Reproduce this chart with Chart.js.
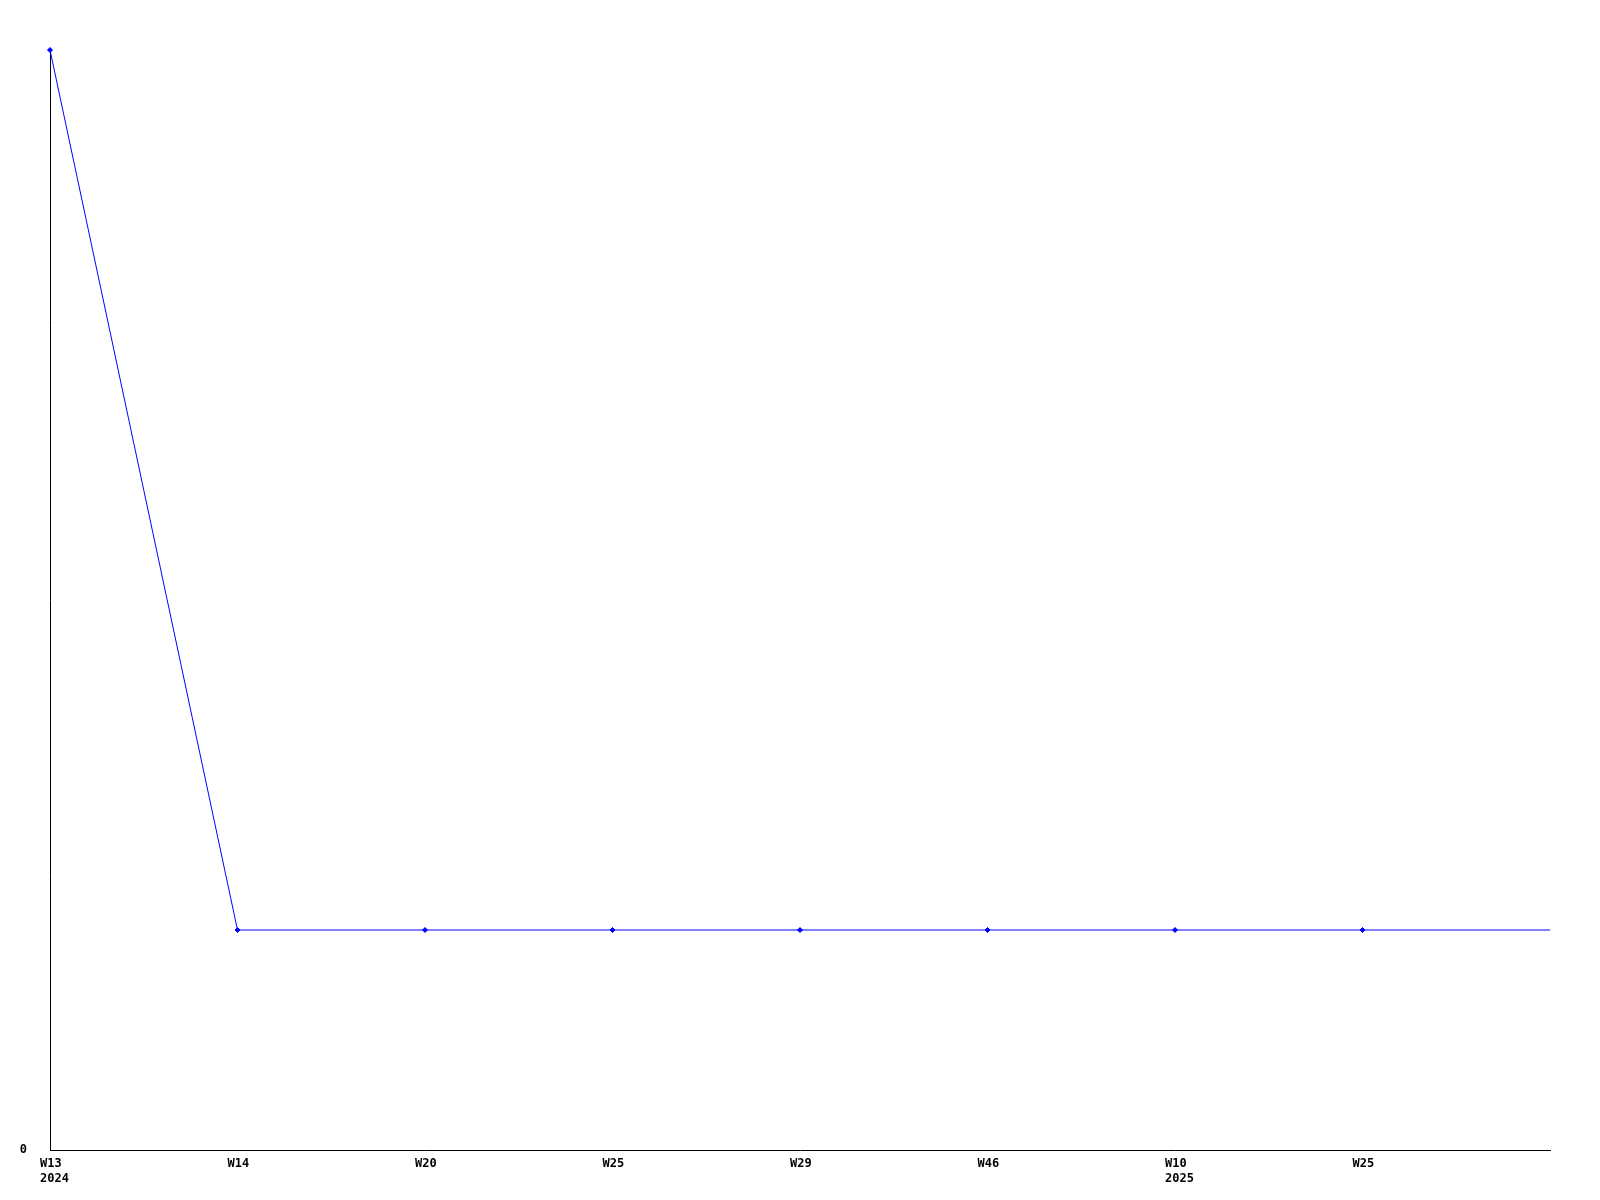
<!DOCTYPE html>
<html>
<head>
<meta charset="utf-8">
<script src="https://cdn.jsdelivr.net/npm/chart.js@4"></script>
<style>
  body{margin:0;background:#fff;}
  #wrap{width:1600px;height:1200px;}
</style>
</head>
<body>
<div id="wrap"><canvas id="weekChart" width="1600" height="1200"></canvas></div>
<script>
//Data
const weekLabels = ['W13','W14','W20','W25','W29','W46','W10','W25',''];
const yearLabels = ['2024','','','','','','2025','',''];
const counts = [5,1,1,1,1,1,1,1,1];
const yMin = 0;
const yMax = 5;

const labelFont = 'bold 12px "DejaVu Sans Mono", "Liberation Mono", monospace';

// x labels are drawn left aligned, a bit before each tick
const xLabels = {
    id:'xLabels',
    afterDraw(chart){
        const ctx = chart.ctx;
        const x = chart.scales.x;
        const bottom = chart.chartArea.bottom;
        ctx.save();
        ctx.font = labelFont;
        ctx.fillStyle = '#000';
        ctx.textAlign = 'left';
        ctx.textBaseline = 'alphabetic';
        for(let i=0;i<weekLabels.length;i++){
            let px = x.getPixelForValue(i) - 10;
            if(weekLabels[i]!='') ctx.fillText(weekLabels[i], px, bottom + 17);
            if(yearLabels[i]!='') ctx.fillText(yearLabels[i], px, bottom + 32);
        }
        ctx.restore();
    }
};

const pointSizes = counts.map((c,i)=> i==counts.length-1 ? 0 : 2.5);

const theChart = new Chart(document.querySelector('#weekChart'),{
    type:'line',
    data:{
        labels: weekLabels,
        datasets:[{
            data: counts,
            borderColor:'#0000ff',
            backgroundColor:'#0000ff',
            borderWidth:1,
            tension:0,
            fill:false,
            clip:false,
            pointStyle:'rectRot',
            pointRadius: pointSizes,
            pointBorderWidth:1
        }]
    },
    options:{
        responsive:false,
        maintainAspectRatio:false,
        animation:false,
        layout:{ padding:{ top:50, right:50, left:0, bottom:0 } },
        plugins:{
            legend:{ display:false },
            tooltip:{ enabled:false }
        },
        scales:{
            x:{
                offset:false,
                grid:{ display:false },
                border:{ display:true, color:'#000', width:1 },
                ticks:{ display:false },
                afterFit(scale){ scale.height = 50; }
            },
            y:{
                min:yMin,
                max:yMax,
                grid:{ display:false },
                border:{ display:true, color:'#000', width:1 },
                ticks:{
                    color:'#000',
                    font:{ family:'"DejaVu Sans Mono", monospace', size:12, weight:'bold' },
                    padding:15,
                    callback:(v)=> v==0 ? '0' : ''
                },
                afterFit(scale){ scale.width = 50; }
            }
        }
    },
    plugins:[xLabels]
});
</script>
</body>
</html>
